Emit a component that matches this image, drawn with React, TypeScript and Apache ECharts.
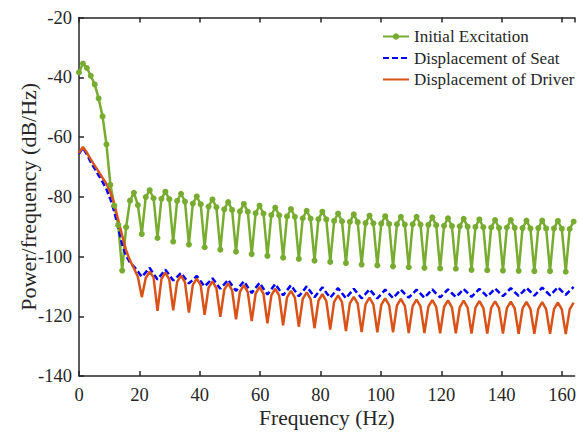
import React, { useEffect, useRef } from "react";
import * as echarts from "echarts";

// Frequency grid (Hz) — sample spacing of the spectra
const FREQ_STEP = 1.3;

const X_TICKS = [0, 20, 40, 60, 80, 100, 120, 140, 160];
const Y_TICKS = [-140, -120, -100, -80, -60, -40, -20];

const SERIES_NAMES = ["Initial Excitation", "Displacement of Seat", "Displacement of Driver"];

const initialExcitation = [
  -38.4, -35.4, -36.9, -39.5, -42.4, -47.1, -53.1, -62.5, -76.0, -83.0,
  -89.5, -104.7, -90.2, -81.3, -78.7, -82.8, -92.5, -80.1, -77.8, -80.5,
  -93.8, -80.7, -78.3, -80.8, -95.0, -81.4, -79.0, -81.6, -96.0, -82.3,
  -79.9, -82.5, -96.9, -83.3, -80.9, -83.5, -97.7, -84.2, -81.8, -84.4,
  -98.4, -84.9, -82.4, -85.0, -99.2, -85.5, -83.0, -85.6, -99.8, -86.1,
  -83.6, -86.2, -100.4, -86.6, -84.1, -86.7, -100.8, -87.2, -84.7, -87.3,
  -101.4, -87.5, -85.0, -87.6, -101.8, -88.1, -85.6, -88.2, -102.2, -88.4,
  -85.9, -88.5, -102.7, -88.8, -86.3, -88.9, -103.0, -89.0, -86.5, -89.1,
  -103.3, -89.2, -86.7, -89.3, -103.6, -89.2, -86.7, -89.3, -103.8, -89.4,
  -86.9, -89.5, -104.0, -89.7, -87.2, -89.8, -104.1, -89.9, -87.4, -90.0,
  -104.5, -90.1, -87.6, -90.2, -104.6, -90.3, -87.8, -90.4, -104.7, -90.3,
  -87.8, -90.4, -104.8, -90.5, -88.0, -90.6, -104.9, -90.5, -88.0, -90.6,
  -104.9, -90.6, -88.1, -90.7, -105.1, -90.8, -88.3,
];

const displacementSeat = [
  -65.6, -63.6, -65.8, -68.4, -70.6, -72.8, -75.0, -77.5, -80.8, -85.0,
  -90.5, -96.0, -99.8, -102.0, -103.4, -105.0, -106.8, -105.3, -103.8, -105.8,
  -107.7, -106.0, -104.4, -106.2, -108.0, -106.8, -105.5, -107.3, -109.0, -107.8,
  -106.5, -108.3, -110.0, -108.7, -107.3, -109.1, -110.8, -109.3, -107.8, -109.7,
  -111.5, -109.9, -108.3, -110.3, -112.2, -110.5, -108.8, -110.8, -112.7, -111.0,
  -109.2, -111.1, -113.0, -111.3, -109.6, -111.5, -113.3, -111.7, -110.0, -111.8,
  -113.6, -112.0, -110.3, -112.1, -113.8, -112.2, -110.6, -112.3, -114.0, -112.4,
  -110.8, -112.4, -114.0, -112.5, -111.0, -112.5, -114.0, -112.6, -111.1, -112.5,
  -113.9, -112.5, -111.1, -112.5, -113.8, -112.5, -111.1, -112.4, -113.8, -112.4,
  -111.0, -112.4, -113.7, -112.4, -111.0, -112.3, -113.6, -112.3, -110.9, -112.2,
  -113.5, -112.2, -110.8, -112.1, -113.4, -112.1, -110.7, -112.0, -113.3, -112.0,
  -110.6, -111.9, -113.2, -111.9, -110.5, -111.8, -113.1, -111.8, -110.4, -111.7,
  -113.0, -111.7, -110.3, -111.6, -112.8, -111.5, -110.2,
];

const displacementDriver = [
  -65.4, -63.3, -65.2, -67.5, -69.6, -71.6, -73.7, -75.7, -78.5, -82.5,
  -87.8, -93.0, -98.0, -101.3, -104.0, -106.8, -113.6, -107.2, -105.1, -107.0,
  -118.2, -107.6, -105.4, -107.7, -118.0, -108.5, -106.4, -108.7, -118.8, -109.5,
  -107.4, -109.6, -119.5, -110.5, -108.3, -110.6, -120.2, -111.2, -109.0, -111.3,
  -121.0, -111.8, -109.6, -111.9, -121.6, -112.4, -110.2, -112.5, -122.4, -113.0,
  -110.8, -113.1, -123.0, -113.7, -111.5, -113.8, -123.5, -114.2, -112.0, -114.3,
  -124.0, -114.8, -112.6, -114.9, -124.5, -115.2, -113.0, -115.3, -125.0, -115.7,
  -113.5, -115.8, -125.3, -116.0, -113.8, -116.1, -125.4, -116.2, -114.0, -116.3,
  -125.4, -116.4, -114.2, -116.5, -125.6, -116.6, -114.4, -116.7, -125.6, -116.8,
  -114.6, -116.9, -125.7, -116.9, -114.7, -117.0, -125.7, -117.0, -114.8, -117.1,
  -125.8, -117.1, -114.9, -117.2, -125.8, -117.2, -115.0, -117.3, -125.8, -117.3,
  -115.1, -117.4, -125.9, -117.4, -115.2, -117.5, -125.9, -117.5, -115.3, -117.6,
  -125.9, -117.6, -115.4, -117.7, -126.0, -117.7, -115.4,
];

const FONT = "Liberation Serif";
const TEXT_COLOR = "#262626";

function pairs(values: number[]) {
  return values.map((v, i) => [+(i * FREQ_STEP).toFixed(3), v]);
}

export default function App() {
  const ref = useRef<HTMLDivElement>(null);

  useEffect(() => {
    document.body.style.margin = "0";
    if (!ref.current) return;
    const chart = echarts.init(ref.current, null, { renderer: "svg" });
    const xMin = X_TICKS[0];
    const xStep = X_TICKS[1] - X_TICKS[0];
    const yMin = Y_TICKS[0];
    const yMax = Y_TICKS[Y_TICKS.length - 1];
    const yStep = Y_TICKS[1] - Y_TICKS[0];
    const axisLine = { show: true, lineStyle: { color: TEXT_COLOR, width: 1.5 } };
    const axisTick = { show: true, inside: true, length: 5, lineStyle: { color: TEXT_COLOR, width: 1.5 } };

    chart.setOption({
      animation: false,
      backgroundColor: "#ffffff",
      textStyle: { fontFamily: FONT, color: TEXT_COLOR },
      grid: { left: 79, top: 17.5, right: 0, bottom: 55, containLabel: false },
      legend: {
        data: [
          { name: SERIES_NAMES[0] },
          { name: SERIES_NAMES[1], itemStyle: { opacity: 0 } },
          { name: SERIES_NAMES[2], itemStyle: { opacity: 0 } },
        ],
        orient: "vertical",
        left: 382,
        top: 28,
        padding: 0,
        itemWidth: 26,
        itemHeight: 8,
        itemGap: 4.5,
        textStyle: { fontFamily: FONT, fontSize: 17, color: TEXT_COLOR },
      },
      xAxis: [
        {
          type: "value",
          min: xMin,
          max: 164.15,
          interval: xStep,
          name: "Frequency (Hz)",
          nameLocation: "middle",
          nameGap: 31,
          nameMoveOverlap: false,
          nameTextStyle: { fontFamily: FONT, fontSize: 21.5, color: TEXT_COLOR },
          axisLine,
          axisTick,
          splitLine: { show: false },
          axisLabel: {
            fontFamily: FONT,
            fontSize: 18.5,
            color: TEXT_COLOR,
            margin: 9,
            showMaxLabel: false,
          },
        },
        {
          type: "value",
          position: "top",
          min: xMin,
          max: 164.15,
          interval: xStep,
          axisLine,
          axisTick,
          splitLine: { show: false },
          axisLabel: { show: false },
        },
      ],
      yAxis: {
        type: "value",
        min: yMin,
        max: yMax,
        interval: yStep,
        name: "Power/frequency (dB/Hz)",
        nameLocation: "middle",
        nameGap: 40,
        nameMoveOverlap: false,
        nameTextStyle: { fontFamily: FONT, fontSize: 22, color: TEXT_COLOR },
        axisLine,
        axisTick,
        splitLine: { show: false },
        axisLabel: { fontFamily: FONT, fontSize: 18.5, color: TEXT_COLOR, margin: 7 },
      },
      series: [
        {
          name: SERIES_NAMES[0],
          type: "line",
          data: pairs(initialExcitation),
          symbol: "circle",
          symbolSize: 6,
          showSymbol: true,
          itemStyle: { color: "#77AC30" },
          lineStyle: { color: "#77AC30", width: 2.5 },
          clip: true,
        },
        {
          name: SERIES_NAMES[1],
          type: "line",
          data: pairs(displacementSeat),
          symbol: "none",
          itemStyle: { color: "#0000FF" },
          lineStyle: { color: "#0000FF", width: 2.5, type: [6, 3] },
          clip: true,
        },
        {
          name: SERIES_NAMES[2],
          type: "line",
          data: pairs(displacementDriver),
          symbol: "none",
          itemStyle: { color: "#D95319" },
          lineStyle: { color: "#D95319", width: 2.5 },
          clip: true,
        },
      ],
    });
    return () => chart.dispose();
  }, []);

  return <div ref={ref} style={{ width: 579, height: 434 }} />;
}
